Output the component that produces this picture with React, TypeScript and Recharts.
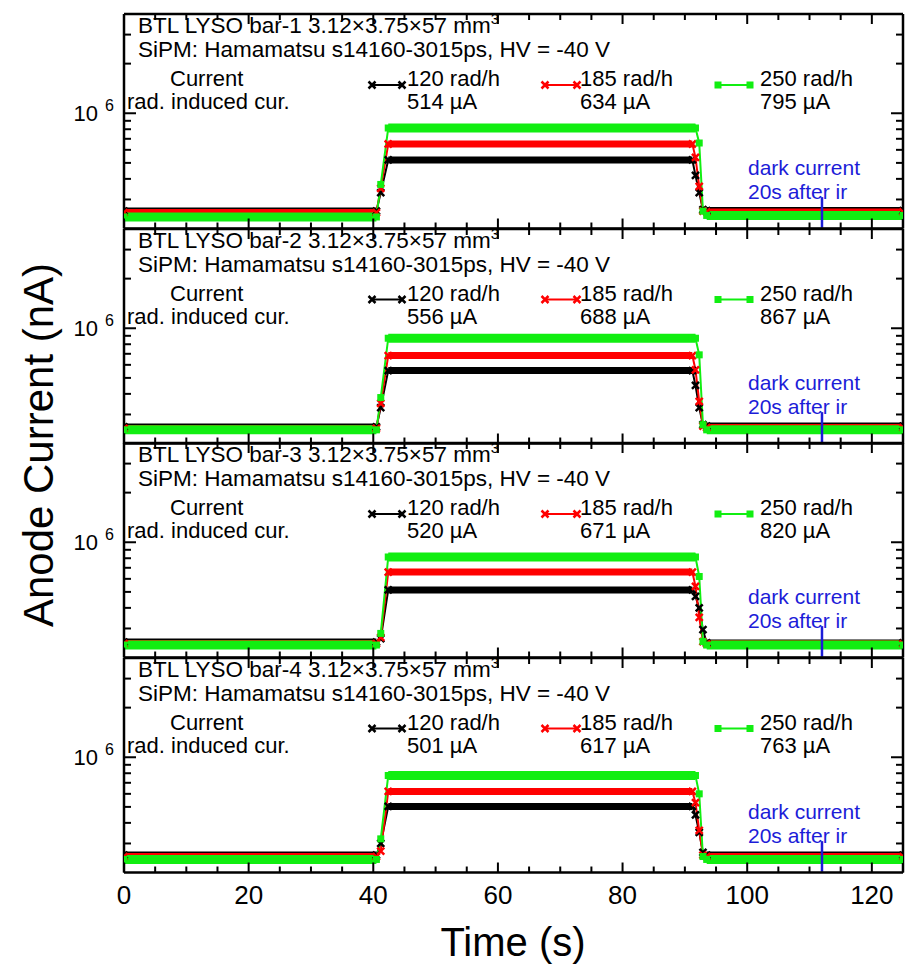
import React from 'react';
import { LineChart, Line, XAxis, YAxis, ReferenceLine } from 'recharts';

// ---- data (y in nA, x in s) ----
const X_MAJOR = [0, 20, 40, 60, 80, 100, 120];
const X_MINOR = [5, 10, 15, 25, 30, 35, 45, 50, 55, 65, 70, 75, 85, 90, 95, 105, 110, 115, 125];
const Y_MAJOR = [1e6];
const Y_MINOR = [3e5, 4e5, 5e5, 6e5, 7e5, 8e5, 9e5, 2e6, 3e6];
const Y_DOMAIN = [2e5, 4e6];

const bars = ['bar-1', 'bar-2', 'bar-3', 'bar-4'];
const doseRates = ['120 rad/h', '185 rad/h', '250 rad/h'];
const inducedCurrents = [
  ['514 µA', '634 µA', '795 µA'],
  ['556 µA', '688 µA', '867 µA'],
  ['520 µA', '671 µA', '820 µA'],
  ['501 µA', '617 µA', '763 µA'],
];

const times = [0, 40.5, 41.2, 42.4, 91.2, 91.7, 92.3, 92.9, 93.5, 125];

const bar1Black = [2.55e5, 2.55e5, 3.3e5, 5.21e5, 5.21e5, 4.2e5, 3.3e5, 2.6e5, 2.57e5, 2.57e5];
const bar1Red = [2.5e5, 2.5e5, 3.5e5, 6.51e5, 6.51e5, 5.4e5, 3.6e5, 2.55e5, 2.52e5, 2.52e5];
const bar1Green = [2.35e5, 2.35e5, 3.7e5, 8.14e5, 8.14e5, 8.14e5, 6.6e5, 2.55e5, 2.4e5, 2.4e5];

const bar2Black = [2.52e5, 2.52e5, 3.3e5, 5.54e5, 5.54e5, 4.5e5, 3.3e5, 2.6e5, 2.55e5, 2.55e5];
const bar2Red = [2.47e5, 2.47e5, 3.5e5, 6.83e5, 6.83e5, 5.6e5, 3.6e5, 2.55e5, 2.5e5, 2.5e5];
const bar2Green = [2.42e5, 2.42e5, 3.8e5, 8.7e5, 8.7e5, 8.7e5, 6.9e5, 2.6e5, 2.42e5, 2.42e5];

const bar3Black = [2.48e5, 2.48e5, 2.6e5, 5.14e5, 5.14e5, 4.7e5, 4.0e5, 2.95e5, 2.45e5, 2.45e5];
const bar3Red = [2.43e5, 2.43e5, 2.65e5, 6.6e5, 6.6e5, 5.4e5, 3.5e5, 2.5e5, 2.42e5, 2.42e5];
const bar3Green = [2.38e5, 2.38e5, 2.8e5, 8.14e5, 8.14e5, 8.14e5, 6.2e5, 2.5e5, 2.38e5, 2.38e5];

const bar4Black = [2.55e5, 2.55e5, 3.0e5, 5.03e5, 5.03e5, 4.47e5, 3.5e5, 2.65e5, 2.55e5, 2.55e5];
const bar4Red = [2.5e5, 2.5e5, 2.7e5, 6.2e5, 6.2e5, 5.3e5, 3.6e5, 2.55e5, 2.5e5, 2.5e5];
const bar4Green = [2.4e5, 2.4e5, 3.2e5, 7.75e5, 7.75e5, 7.75e5, 6.0e5, 2.5e5, 2.4e5, 2.4e5];

const panelSeries = [
  [bar1Black, bar1Red, bar1Green],
  [bar2Black, bar2Red, bar2Green],
  [bar3Black, bar3Red, bar3Green],
  [bar4Black, bar4Red, bar4Green],
];

// "dark current 20s after ir" marker
const DARK_T = 112;
const DARK_TOP = 3.1e5;
const DARK_BOTTOM = 2.02e5;

// ---- look ----
const FONT = '"Liberation Sans", Arial, sans-serif';
const COLORS = ['#000000', '#ff0000', '#11ee11'];
const BAND_W = [7, 7, 9];
const BLUE = '#1c1cd8';

const W = 905;
const H = 966;
const PLOT_L = 124;
const PANEL_TOPS = [14, 228.5, 443, 657.5];
const PANEL_H = 214.5;
const PAD = 6;
const LAST_PAD = 48;
const THIN = 0.01; // axes need a non-zero size to be drawn

const toRows = (vals: number[]) => times.map((t, i) => ({ t, v: vals[i] }));
// thick band only where the series sits on a flat level
const toBand = (vals: number[]) =>
  times.map((t, i) => {
    const flat = vals[i] === vals[i - 1] || vals[i] === vals[i + 1];
    return { t, v: flat ? vals[i] : null };
  });

const Marker = ({ x, y, color, kind, size = 3.5 }: any) => {
  if (x == null || y == null || isNaN(x) || isNaN(y)) return null;
  if (kind === 2) {
    return <rect x={x - size} y={y - size} width={size * 2} height={size * 2} fill={color} />;
  }
  return (
    <path
      d={`M${x - size},${y - size}L${x + size},${y + size}M${x - size},${y + size}L${x + size},${y - size}`}
      stroke={color}
      strokeWidth={2.5}
    />
  );
};

// tickSize is 0, so the tick anchor is on the frame; draw the inward tick mark here
type Side = 'b' | 't' | 'l' | 'r';
const inward = (side: Side, len: number, x: number, y: number) => {
  if (side === 'b') return [x, y - len];
  if (side === 't') return [x, y + len];
  if (side === 'l') return [x + len, y];
  return [x - len, y];
};

const makeTick = (side: Side, len: number, label?: 'x' | 'y') => (p: any) => {
  const { x, y, payload, index } = p;
  const [x2, y2] = inward(side, len, x, y);
  return (
    <g key={`${side}${len}-${index}`}>
      <line x1={x} y1={y} x2={x2} y2={y2} stroke="#000" strokeWidth={2} />
      {label === 'x' && (
        <text x={x} y={y + 31} textAnchor="middle" fontSize={26} fontFamily={FONT} fill="#000">
          {payload.value}
        </text>
      )}
      {label === 'y' && (
        <g fontFamily={FONT} fill="#000">
          <text x={x - 26} y={y + 8} textAnchor="end" fontSize={22}>10</text>
          <text x={x - 10} y={y - 2} textAnchor="end" fontSize={16}>6</text>
        </g>
      )}
    </g>
  );
};

const Panel = ({ idx }: { idx: number }) => {
  const last = idx === 3;
  const mb = last ? LAST_PAD : PAD;
  const series = panelSeries[idx];
  const axisLine = { stroke: '#000', strokeWidth: 2.5 };
  const xCommon = { type: 'number' as const, dataKey: 't', domain: [0, 125], allowDataOverflow: true, interval: 0 as const,
    height: THIN, tickSize: 0, tickMargin: 0, tickLine: false, stroke: '#000' };
  const yCommon = { type: 'number' as const, scale: 'log' as const, domain: Y_DOMAIN, allowDataOverflow: true,
    interval: 0 as const, width: THIN, tickSize: 0, tickMargin: 0, tickLine: false, stroke: '#000' };
  return (
    <div style={{ position: 'absolute', left: 0, top: PANEL_TOPS[idx] - PAD }}>
      <LineChart width={W} height={PANEL_H + PAD + mb}
        margin={{ top: PAD - 2 * THIN, right: 2 - 2 * THIN, bottom: mb - 2 * THIN, left: PLOT_L - 2 * THIN }}>
        <XAxis xAxisId="b" {...xCommon} ticks={X_MAJOR} axisLine={axisLine} tick={makeTick('b', 10, last ? 'x' : undefined)} />
        <XAxis xAxisId="bm" {...xCommon} ticks={X_MINOR} axisLine={false} tick={makeTick('b', 6)} />
        <XAxis xAxisId="t" orientation="top" {...xCommon} ticks={X_MAJOR} axisLine={axisLine} tick={makeTick('t', 10)} />
        <XAxis xAxisId="tm" orientation="top" {...xCommon} ticks={X_MINOR} axisLine={false} tick={makeTick('t', 6)} />
        <YAxis yAxisId="l" {...yCommon} ticks={Y_MAJOR} axisLine={axisLine} tick={makeTick('l', 12, 'y')} />
        <YAxis yAxisId="lm" {...yCommon} ticks={Y_MINOR} axisLine={false} tick={makeTick('l', 7)} />
        <YAxis yAxisId="r" orientation="right" {...yCommon} ticks={Y_MAJOR} axisLine={axisLine} tick={makeTick('r', 12)} />
        <YAxis yAxisId="rm" orientation="right" {...yCommon} ticks={Y_MINOR} axisLine={false} tick={makeTick('r', 7)} />

        {series.map((vals, k) => [
          <Line key={`band${k}`} xAxisId="b" yAxisId="l" data={toBand(vals)} dataKey="v" type="linear"
            stroke={COLORS[k]} strokeWidth={BAND_W[k]} dot={false} activeDot={false} isAnimationActive={false} />,
          <Line key={`line${k}`} xAxisId="b" yAxisId="l" data={toRows(vals)} dataKey="v" type="linear"
            stroke={COLORS[k]} strokeWidth={2} activeDot={false} isAnimationActive={false}
            dot={(p: any) => <Marker key={`m${k}-${p.index}`} x={p.cx} y={p.cy} color={COLORS[k]} kind={k} />} />,
        ])}

        <ReferenceLine xAxisId="b" yAxisId="l" segment={[{ x: DARK_T, y: DARK_TOP }, { x: DARK_T, y: DARK_BOTTOM }]}
          stroke={BLUE} strokeWidth={2.5} />
      </LineChart>
    </div>
  );
};

const LEGEND_X = [[372, 402, 407], [545, 577, 580], [718, 750, 760]];

const PanelText = ({ idx }: { idx: number }) => {
  const p = PANEL_TOPS[idx];
  return (
    <g fontFamily={FONT} fontSize={22} fill="#000" style={{ whiteSpace: 'pre' }}>
      <text x={138} y={p + 19} fontSize={22.5}>
        {`BTL LYSO ${bars[idx]} 3.12×3.75×57  mm`}
        <tspan dy={-9} fontSize={15}>3</tspan>
      </text>
      <text x={138} y={p + 43} fontSize={22.5}>SiPM: Hamamatsu s14160-3015ps, HV = -40 V</text>
      <text x={170} y={p + 72}>Current</text>
      <text x={127} y={p + 95}>rad. induced cur.</text>
      {doseRates.map((d, k) => {
        const [x1, x2, tx] = LEGEND_X[k];
        return (
          <g key={d}>
            <line x1={x1} x2={x2} y1={p + 71} y2={p + 71} stroke={COLORS[k]} strokeWidth={2} />
            <Marker x={x1} y={p + 71} color={COLORS[k]} kind={k} />
            <Marker x={x2} y={p + 71} color={COLORS[k]} kind={k} />
            <text x={tx} y={p + 72}>{d}</text>
            <text x={tx} y={p + 95}>{inducedCurrents[idx][k]}</text>
          </g>
        );
      })}
      <text x={748} y={p + 161} fill={BLUE} fontSize={21}>dark current</text>
      <text x={748} y={p + 185} fill={BLUE} fontSize={21}>20s after ir</text>
    </g>
  );
};

export default function App() {
  return (
    <div style={{ position: 'absolute', left: 0, top: 0, width: W, height: H, background: '#fff', overflow: 'hidden' }}>
      {[0, 1, 2, 3].map((i) => (
        <Panel key={i} idx={i} />
      ))}
      <svg width={W} height={H} style={{ position: 'absolute', left: 0, top: 0, pointerEvents: 'none' }}>
        {[0, 1, 2, 3].map((i) => (
          <PanelText key={i} idx={i} />
        ))}
        <text x={38} y={445} transform="rotate(-90 38 445)" textAnchor="middle" dominantBaseline="central"
          fontFamily={FONT} fontSize={42} fill="#000">Anode Current (nA)</text>
        <text x={513} y={956} textAnchor="middle" fontFamily={FONT} fontSize={40} fill="#000">Time (s)</text>
      </svg>
    </div>
  );
}
